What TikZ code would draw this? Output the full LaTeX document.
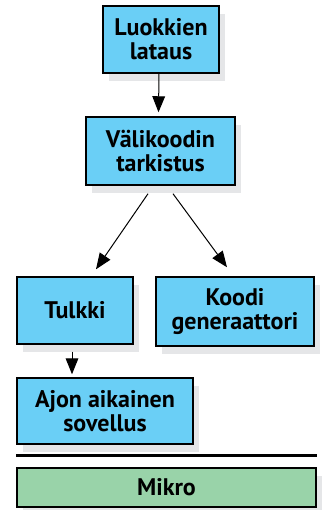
\documentclass[tikz,border=0pt]{standalone}
\usepackage{fontspec}
\setmainfont{PT Sans}
\usetikzlibrary{arrows.meta,shadows,calc}
\definecolor{boxblue}{HTML}{6ACFF6}
\definecolor{boxgreen}{HTML}{99D3A9}
\definecolor{shadowgray}{HTML}{E5E6E8}
\begin{document}
\begin{tikzpicture}[x=0.75pt,y=-0.75pt,
  box/.style={draw=black, line width=1.1pt, fill=boxblue, align=center,
    font=\fontsize{18}{18}\selectfont\bfseries, inner sep=0pt,
    drop shadow={shadow xshift=4.5pt, shadow yshift=-6pt, fill=shadowgray, opacity=1}},
  arr/.style={line width=0.75pt, -{Triangle[length=12pt,width=9.5pt]}}]
\useasboundingbox (0,0) rectangle (322,510);
\node[box, minimum width=87pt, minimum height=50.25pt] (b1) at (161,39.5) {Luokkien\\lataus};
\node[box, minimum width=111.75pt, minimum height=51pt] (b2) at (160.5,151) {Välikoodin\\tarkistus};
\node[box, minimum width=87pt, minimum height=50.25pt] (tulkki) at (75,310.5) {Tulkki};
\node[box, minimum width=118.5pt, minimum height=51.75pt] (koodi) at (235,311.5) {Koodi\\generaattori};
\node[box, minimum width=132pt, minimum height=49.5pt] (ajon) at (105,411) {Ajon aikainen\\sovellus};
\node[box, fill=boxgreen, minimum width=224.25pt, minimum height=29.25pt] (mikro) at (166.5,487.5) {Mikro};
\draw[arr] ([xshift=-1.5pt]b1.south) -- ([xshift=-1.5pt,yshift=3pt]b2.north);
\draw[arr] ([shift={(-12.5,8)}]b2.south) -- ([shift={(21,-7)}]tulkki.north);
\draw[arr] ([shift={(12.5,8)}]b2.south) -- ([shift={(-8,-9)}]koodi.north);
\draw[arr] ([shift={(-3,7)}]tulkki.south) -- ([shift={(-33,-3)}]ajon.north);
\draw[line width=2.25pt] ([yshift=9pt]mikro.north west) -- ([yshift=9pt]mikro.north east);
\end{tikzpicture}
\end{document}
